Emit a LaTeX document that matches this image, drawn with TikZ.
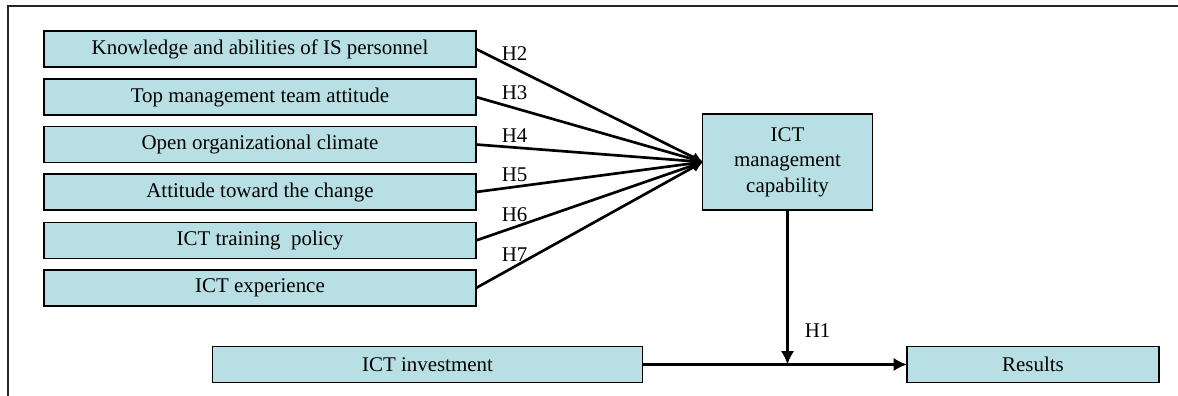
\documentclass[tikz,border=0pt]{standalone}
\usepackage{fontspec}
\setmainfont{Liberation Serif}
\usepackage{tikz}
\usetikzlibrary{arrows.meta,positioning}
\usepackage{xcolor}
\definecolor{boxfill}{RGB}{184,223,227}

\begin{document}
\begin{tikzpicture}[x=0.75pt,y=-0.75pt]
                    \tikzstyle{factor} = [
	shape=rectangle,
	draw=black, %thin border round every box
	fill=boxfill,
	line width=0.8pt,
	minimum height=27pt,
	inner sep=0pt,
	outer sep=0pt,
	font=\fontsize{15.7}{19}\selectfont
];
\tikzstyle{hyp} = [
	font=\fontsize{15.7}{19}\selectfont,
	inner sep=2pt
];

\useasboundingbox (0,0) rectangle (1178,396);
\draw[line width=1.3pt, color=black!85] (1178,6) -- (8,6) -- (8,396);

%antecedents
\begin{scope}[shift={(260,0)}]
	\node[factor, minimum width=324pt](Kn) at (0,49) {Knowledge and abilities of IS personnel};
	\node[factor, minimum width=324pt](Tm) at (0,97) {Top management team attitude};
	\node[factor, minimum width=324pt](Oc) at (0,144.5) {Open organizational climate};
	\node[factor, minimum width=324pt](At) at (0,192) {Attitude toward the change};
	\node[factor, minimum width=324pt](Tp) at (0,240.5) {ICT training\ \ policy};
	\node[factor, minimum width=324pt](Ex) at (0,288) {ICT experience};
\end{scope}

\node[factor, minimum width=127pt, minimum height=72pt, align=center](Mc) at (787.5,162) {ICT\\management\\capability};

%outcome row
\node[factor, minimum width=323pt](In) at (427.5,364.5) {ICT investment};
\node[factor, minimum width=189pt](Re) at (1033,364.5) {Results};
\coordinate (Jn) at (Mc.south |- In.east);

%hypotheses H2 to H7
\path[-{Latex[length=8pt,width=8pt]}, line width=2pt, color=black]
	(Kn.east) edge[] node[hyp, pos=0.17, above=3pt]{H2} (Mc.west)
	(Tm.east) edge[] node[hyp, pos=0.17, above=3pt]{H3} (Mc.west)
	(Oc.east) edge[] node[hyp, pos=0.17, above=1pt]{H4} (Mc.west)
	(At.east) edge[] node[hyp, pos=0.17, above=1pt]{H5} (Mc.west)
	(Tp.east) edge[] node[hyp, pos=0.17, above=1pt]{H6} (Mc.west)
	(Ex.east) edge[] node[hyp, pos=0.17, above=1pt]{H7} (Mc.west)
;

%hypothesis H1
\path[-{Latex[length=10pt,width=10pt]}, line width=2pt, color=black]
	(In.east) edge[] (Re.west)
	(Mc.south) edge[] node[hyp, pos=0.78, right=10pt]{H1} (Jn)
;

                \end{tikzpicture}
\end{document}
